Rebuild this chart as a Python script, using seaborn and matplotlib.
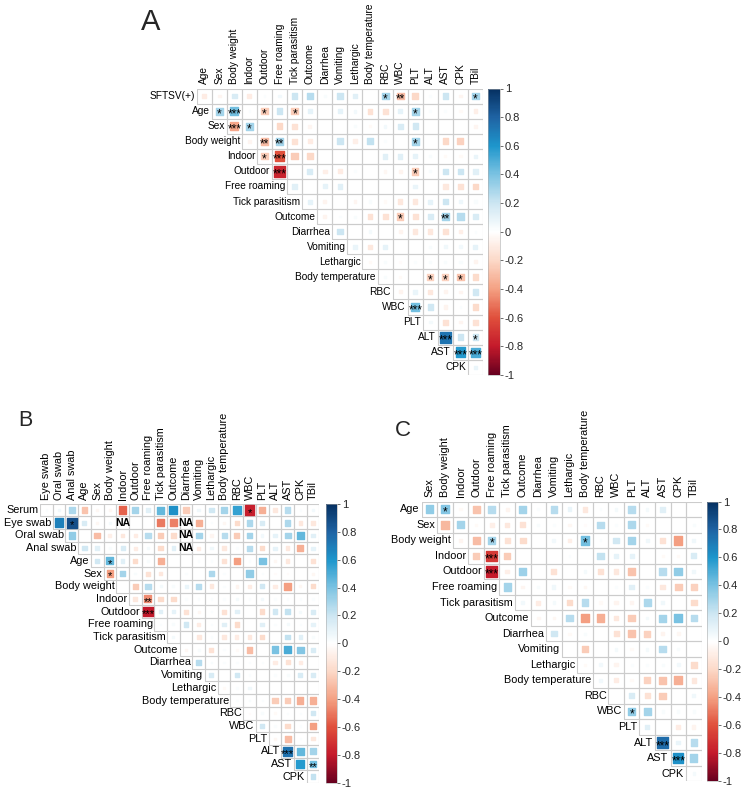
import numpy as np
import pandas as pd
import matplotlib
matplotlib.use("Agg")
import matplotlib.pyplot as plt
from matplotlib.patches import Rectangle
from matplotlib.collections import PatchCollection
from matplotlib.colors import LinearSegmentedColormap
import seaborn as sns

NA = np.nan

# ---------------- Panel A data ----------------
A_vars = ["SFTSV(+)", "Age", "Sex", "Body weight", "Indoor", "Outdoor", "Free roaming",
          "Tick parasitism", "Outcome", "Diarrhea", "Vomiting", "Lethargic",
          "Body temperature", "RBC", "WBC", "PLT", "ALT", "AST", "CPK", "TBil"]
A_r = [
    [-0.10, -0.05, 0.15, -0.10, 0.02, 0.05, 0.20, 0.25, 0.03, 0.20, 0.12, 0.0, 0.30, -0.30, -0.20, 0.02, 0.20, -0.05, 0.30],
    [0.30, 0.42, 0.02, -0.25, 0.20, -0.25, 0.10, 0.0, 0.10, 0.05, -0.15, -0.15, 0.10, 0.30, 0.02, 0.02, -0.03, -0.08],
    [-0.38, 0.30, 0.0, -0.20, -0.15, -0.05, 0.0, 0.0, 0.03, -0.03, 0.05, 0.15, 0.18, 0.0, 0.0, 0.0, -0.05],
    [-0.05, -0.30, 0.30, -0.15, -0.10, 0.0, 0.20, -0.08, 0.22, 0.02, 0.0, 0.30, 0.0, -0.20, -0.22, 0.0],
    [-0.25, -0.60, -0.25, -0.20, 0.0, 0.0, 0.0, 0.0, 0.12, 0.12, 0.10, 0.03, -0.03, -0.03, 0.08],
    [-0.76, 0.0, 0.15, -0.08, -0.10, 0.02, 0.0, -0.04, -0.06, -0.25, 0.03, 0.20, 0.20, 0.12],
    [0.12, 0.0, 0.10, 0.12, 0.0, 0.0, 0.0, 0.0, 0.08, 0.0, -0.12, -0.15, -0.20],
    [0.10, -0.06, 0.0, -0.05, 0.03, -0.03, -0.12, -0.12, 0.10, 0.20, 0.07, 0.03],
    [-0.06, 0.02, 0.03, -0.15, -0.15, -0.25, -0.15, 0.15, 0.30, 0.25, 0.15],
    [0.20, 0.0, 0.04, 0.0, -0.06, -0.12, -0.12, -0.15, -0.08, 0.02],
    [0.08, -0.12, 0.10, 0.0, 0.0, 0.03, 0.06, 0.05, 0.10],
    [-0.03, 0.03, -0.02, 0.02, 0.03, 0.03, 0.03, -0.06],
    [0.03, -0.03, 0.0, -0.22, -0.22, -0.28, -0.18],
    [-0.06, 0.08, -0.12, -0.06, -0.05, 0.18],
    [0.42, 0.18, -0.06, 0.02, -0.18],
    [0.04, -0.15, -0.05, -0.15],
    [0.73, 0.20, 0.20],
    [0.58, 0.50],
    [0.08],
]
A_sig = [("SFTSV(+)", "RBC", "*"), ("SFTSV(+)", "WBC", "**"), ("SFTSV(+)", "TBil", "*"),
         ("Age", "Sex", "*"), ("Age", "Body weight", "***"), ("Age", "Outdoor", "*"),
         ("Age", "Tick parasitism", "*"), ("Age", "PLT", "*"),
         ("Sex", "Body weight", "***"), ("Sex", "Indoor", "*"),
         ("Body weight", "Outdoor", "**"), ("Body weight", "Free roaming", "**"), ("Body weight", "PLT", "*"),
         ("Indoor", "Outdoor", "*"), ("Indoor", "Free roaming", "***"),
         ("Outdoor", "Free roaming", "***"), ("Outdoor", "PLT", "*"),
         ("Outcome", "WBC", "*"), ("Outcome", "AST", "**"),
         ("Body temperature", "ALT", "*"), ("Body temperature", "AST", "*"), ("Body temperature", "CPK", "*"),
         ("WBC", "PLT", "***"), ("ALT", "AST", "***"), ("ALT", "TBil", "*"),
         ("AST", "CPK", "***"), ("AST", "TBil", "***")]

# ---------------- Panel B data ----------------
B_vars = ["Serum", "Eye swab", "Oral swab", "Anal swab", "Age", "Sex", "Body weight", "Indoor",
          "Outdoor", "Free roaming", "Tick parasitism", "Outcome", "Diarrhea", "Vomiting",
          "Lethargic", "Body temperature", "RBC", "WBC", "PLT", "ALT", "AST", "CPK", "TBil"]
B_r = [
    [0.02, 0.05, 0.28, -0.28, -0.04, -0.04, -0.55, 0.30, 0.12, 0.45, 0.62, -0.25, 0.06, 0.18, 0.30, 0.55, -0.78, -0.35, -0.12, 0.25, 0.02, 0.05],
    [0.68, 0.88, 0.15, -0.04, 0.04, NA, 0.0, 0.0, -0.50, -0.48, NA, -0.35, 0.02, -0.04, -0.18, 0.28, 0.15, 0.0, 0.28, -0.12, -0.12],
    [0.35, 0.0, -0.30, -0.08, -0.12, -0.10, 0.25, -0.25, -0.18, NA, 0.30, -0.05, 0.25, -0.25, 0.30, 0.05, 0.10, 0.30, 0.45, 0.12],
    [0.18, 0.12, 0.03, 0.15, -0.10, 0.04, -0.18, 0.12, NA, -0.10, 0.06, -0.12, 0.02, 0.25, -0.18, 0.10, -0.12, -0.35, 0.10],
    [0.18, 0.45, 0.12, -0.18, 0.03, -0.35, 0.0, 0.0, 0.02, 0.02, -0.15, -0.40, 0.02, 0.40, -0.04, -0.12, 0.0, -0.15],
    [-0.40, 0.30, 0.03, -0.15, -0.12, 0.0, 0.02, 0.0, 0.28, 0.02, 0.0, 0.35, 0.02, -0.02, -0.02, 0.0, -0.04],
    [0.0, -0.25, 0.25, 0.04, 0.03, 0.08, 0.25, -0.12, 0.02, -0.06, -0.10, 0.18, -0.10, -0.40, -0.04, -0.18],
    [-0.12, -0.45, -0.18, -0.18, 0.02, 0.02, 0.02, 0.02, 0.04, 0.02, 0.05, 0.02, 0.02, 0.02, 0.02],
    [-0.80, 0.12, 0.10, -0.15, -0.04, 0.02, -0.15, 0.12, 0.0, -0.18, 0.18, 0.22, 0.04, 0.15],
    [0.02, 0.03, 0.18, -0.10, 0.02, 0.12, -0.18, 0.0, 0.12, 0.02, 0.04, 0.02, 0.10],
    [0.04, 0.0, -0.12, 0.02, -0.12, -0.10, -0.12, -0.18, 0.0, 0.22, 0.12, 0.03],
    [-0.04, 0.03, -0.15, 0.02, -0.03, -0.30, 0.0, 0.40, 0.50, 0.38, 0.15],
    [0.25, 0.03, 0.02, 0.02, 0.02, 0.02, -0.10, -0.15, -0.10, 0.0],
    [0.15, 0.0, 0.18, 0.02, 0.0, 0.02, 0.03, 0.15, 0.15],
    [-0.03, 0.02, 0.06, 0.0, 0.0, 0.0, 0.0, 0.0],
    [0.02, 0.03, 0.02, -0.25, -0.25, -0.35, -0.35],
    [-0.02, 0.03, -0.03, 0.02, 0.02, 0.18],
    [0.18, 0.02, -0.18, 0.02, -0.40],
    [-0.04, -0.30, 0.02, -0.12],
    [0.74, 0.45, 0.30],
    [0.58, 0.42],
    [0.22],
]
B_sig = [("Serum", "WBC", "*"), ("Eye swab", "Anal swab", "*"), ("Age", "Body weight", "*"),
         ("Sex", "Body weight", "*"), ("Indoor", "Free roaming", "**"),
         ("Outdoor", "Free roaming", "***"), ("ALT", "AST", "***"), ("AST", "TBil", "**")]

# ---------------- Panel C data ----------------
C_vars = ["Age", "Sex", "Body weight", "Indoor", "Outdoor", "Free roaming", "Tick parasitism",
          "Outcome", "Diarrhea", "Vomiting", "Lethargic", "Body temperature", "RBC", "WBC",
          "PLT", "ALT", "AST", "CPK", "TBil"]
C_r = [
    [0.35, 0.38, -0.03, -0.28, 0.25, -0.06, 0.30, 0.02, 0.25, 0.08, -0.12, 0.02, 0.04, 0.25, 0.04, 0.12, 0.0, 0.0],
    [-0.32, 0.30, -0.03, -0.08, -0.12, -0.15, 0.03, 0.02, -0.04, -0.02, 0.25, 0.02, 0.28, -0.03, 0.0, 0.0, 0.03],
    [-0.05, -0.30, 0.30, -0.15, -0.18, 0.0, 0.05, -0.08, 0.42, 0.02, 0.18, 0.30, 0.06, -0.15, -0.40, 0.06],
    [-0.25, -0.68, -0.25, 0.0, 0.0, 0.0, 0.02, 0.0, 0.22, 0.10, 0.10, 0.0, -0.03, -0.03, 0.15],
    [-0.79, -0.08, 0.32, 0.0, -0.15, 0.0, 0.04, -0.15, -0.12, -0.28, 0.0, 0.25, 0.35, 0.06],
    [0.30, -0.05, 0.03, 0.06, -0.03, -0.04, 0.0, 0.02, 0.12, 0.02, -0.12, -0.25, -0.22],
    [0.05, -0.10, 0.04, -0.18, 0.25, -0.03, -0.06, -0.05, 0.28, 0.06, 0.0, -0.18],
    [-0.04, -0.04, 0.25, -0.40, -0.35, -0.12, -0.25, 0.04, 0.30, 0.40, 0.25],
    [0.18, -0.03, 0.03, 0.0, -0.15, -0.28, -0.22, -0.06, -0.04, 0.0],
    [0.0, -0.25, 0.0, 0.04, -0.03, 0.04, 0.25, 0.03, 0.0],
    [-0.03, 0.05, -0.06, 0.02, 0.02, 0.03, 0.05, -0.18],
    [0.05, -0.10, -0.03, -0.22, -0.28, -0.35, -0.12],
    [0.0, 0.15, -0.15, -0.25, 0.0, 0.06],
    [0.35, 0.30, 0.03, 0.03, 0.03],
    [0.12, 0.0, -0.10, -0.06],
    [0.76, 0.08, 0.25],
    [0.62, 0.30],
    [0.04],
]
C_sig = [("Age", "Body weight", "*"), ("Body weight", "Free roaming", "*"),
         ("Body weight", "Body temperature", "*"), ("Indoor", "Free roaming", "***"),
         ("Outdoor", "Free roaming", "***"), ("WBC", "PLT", "*"),
         ("ALT", "AST", "***"), ("AST", "CPK", "***")]

cbar_ticks = [1, 0.8, 0.6, 0.4, 0.2, 0, -0.2, -0.4, -0.6, -0.8, -1]
ramp_colors = ["#67001f", "#c41a2b", "#e0503c", "#f4a183", "#fcd9c8", "#ffffff",
               "#cde6f2", "#7cc3e2", "#1e96cc", "#1f63a3", "#053061"]

# ---------------- figure ----------------
sns.set_theme(style="white")
plt.rcParams['font.family'] = ['Liberation Sans', 'DejaVu Sans']
cmap = LinearSegmentedColormap.from_list("corr", ramp_colors)

W, H, DPI = 743, 794, 100
fig = plt.figure(figsize=(W / DPI, H / DPI), dpi=DPI)


def draw_panel(vars_, rows, sig, left, top, cell, cbox, fs, star_fs, letter, lpos, lfs):
    n = len(vars_) - 1
    recs = []
    for i, row in enumerate(rows):
        for k, v in enumerate(row):
            recs.append(dict(row=i, col=i + k, r=v))
    df = pd.DataFrame(recs)
    ax = fig.add_axes([left / W, 1 - (top + n * cell) / H, n * cell / W, n * cell / H])
    rects = [Rectangle((c - 0.5, r - 0.5), 1, 1) for r, c in zip(df["row"], df["col"])]
    ax.add_collection(PatchCollection(rects, facecolor="none", edgecolor="#cccccc",
                                      linewidth=0.8, zorder=1))
    d = df.dropna().copy()
    d["a"] = d["r"].abs()
    pts = cell * 72 / DPI
    lw = 1.0
    smax = (pts * 0.93 - lw) ** 2
    sns.scatterplot(data=d, x="col", y="row", hue="r", size="a", palette=cmap,
                    hue_norm=(-1, 1), sizes=(0, smax), size_norm=(0, 1), marker="s",
                    linewidth=lw, edgecolor="face", legend=False, ax=ax, zorder=2)
    for _, rw in df[df["r"].isna()].iterrows():
        ax.text(rw["col"], rw["row"], "NA", ha="center", va="center", fontsize=fs - 0.3,
                fontweight="bold", color="black", zorder=3)
    for rn, cn, s in sig:
        i = vars_.index(rn)
        j = vars_.index(cn) - 1
        ax.text(j, i + 0.22, s, ha="center", va="center", fontsize=star_fs, color="black",
                zorder=3)
    ax.set_xlim(-0.5, n - 0.5)
    ax.set_ylim(n - 0.5, -0.5)
    ax.axis("off")
    for j in range(n):
        ax.text(j, -0.5 - 0.3, vars_[j + 1], rotation=90, ha="center", va="bottom",
                fontsize=fs, color="black")
    for i in range(n):
        ax.text(i - 0.5 - 0.12, i, vars_[i], ha="right", va="center", fontsize=fs,
                color="black")
    x0, y0, x1, y1 = cbox
    cax = fig.add_axes([x0 / W, 1 - y1 / H, (x1 - x0) / W, (y1 - y0) / H])
    sm = plt.cm.ScalarMappable(cmap=cmap, norm=plt.Normalize(-1, 1))
    cb = fig.colorbar(sm, cax=cax, ticks=cbar_ticks)
    cb.ax.set_yticklabels([f"{t:g}" for t in cbar_ticks])
    cb.ax.tick_params(length=2.2, width=0.6, labelsize=8, pad=1.2, color="#555555",
                      right=True, left=False)
    cb.outline.set_linewidth(0.4)
    cb.outline.set_edgecolor("#aaaaaa")
    fig.text(lpos[0] / W, 1 - lpos[1] / H, letter, fontsize=lfs, ha="center", va="center")


draw_panel(A_vars, A_r, A_sig, left=196.7, top=88.5, cell=15.07,
           cbox=(488, 88.5, 500, 375), fs=7.3, star_fs=8.5, letter="A", lpos=(151, 22), lfs=21)
draw_panel(B_vars, B_r, B_sig, left=40, top=503.7, cell=12.7,
           cbox=(326, 503.7, 337, 783.1), fs=7.8, star_fs=8, letter="B", lpos=(25.5, 420.5), lfs=15.5)
draw_panel(C_vars, C_r, C_sig, left=421.7, top=501.5, cell=15.55,
           cbox=(707, 501.5, 718, 781.4), fs=7.8, star_fs=8.5, letter="C", lpos=(402.5, 430), lfs=16)

fig.savefig("out.png", dpi=DPI, facecolor="white")
